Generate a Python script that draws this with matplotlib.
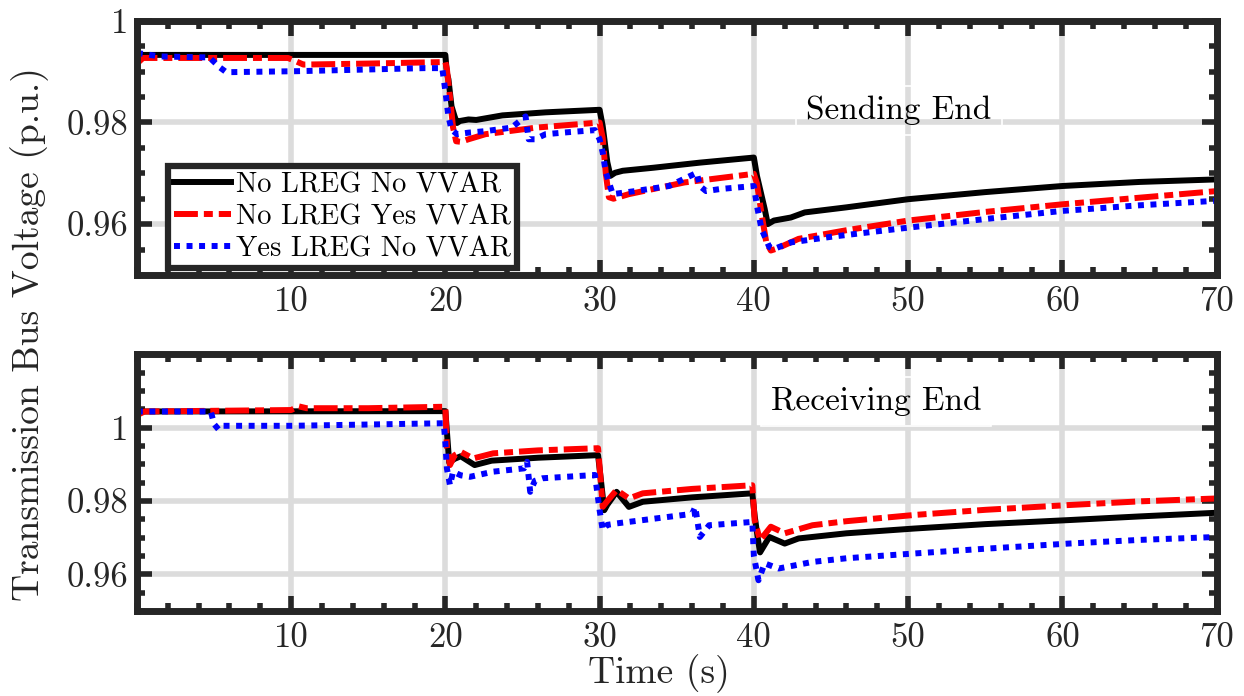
import matplotlib
matplotlib.use("Agg")
import matplotlib.pyplot as plt
from matplotlib.ticker import MultipleLocator

plt.rcParams["font.family"] = "serif"
plt.rcParams["font.serif"] = ["cmr10"]
plt.rcParams["mathtext.fontset"] = "cm"
plt.rcParams["axes.formatter.use_mathtext"] = True

# ---- data ----
labels = ["No LREG No VVAR", "No LREG Yes VVAR", "Yes LREG No VVAR"]
xticks = [10, 20, 30, 40, 50, 60, 70]
xticklabels = ["10", "20", "30", "40", "50", "60", "70"]

# Sending End (top)
send_t_nn = [0, 20.0, 20.1, 20.2, 20.4, 20.6, 20.75, 20.95, 21.5, 22.0, 23.7, 26.5, 30.0,
             30.2, 30.5, 30.7, 31.0, 31.5, 33.5, 36.5, 40.0,
             40.2, 40.7, 40.9, 41.3, 42.4, 43.3, 46, 50, 55, 60, 65, 70]
send_v_nn = [0.9933, 0.9933, 0.9897, 0.9885, 0.9832, 0.9812, 0.9799, 0.9803, 0.9806, 0.9805, 0.9814, 0.9820, 0.9825,
             0.9793, 0.9722, 0.9695, 0.9701, 0.9705, 0.9711, 0.9721, 0.9731,
             0.9695, 0.9630, 0.9600, 0.9607, 0.9613, 0.9623, 0.9633, 0.9649, 0.9663, 0.9675, 0.9683, 0.9688]

send_t_ny = [0, 0.15, 0.4, 9.8, 10.2, 10.8, 15, 20.0,
             20.1, 20.3, 20.5, 20.7, 21.0, 21.5, 22.6, 25.9, 30.0,
             30.2, 30.4, 30.6, 30.9, 31.9, 35.5, 40.0,
             40.2, 40.5, 40.8, 41.1, 41.5, 42.9, 46, 50, 55, 60, 65, 70]
send_v_ny = [0.9927, 0.9920, 0.9927, 0.9927, 0.9922, 0.9914, 0.9916, 0.9919,
             0.9905, 0.9850, 0.9790, 0.9763, 0.9762, 0.9767, 0.9777, 0.9790, 0.9800,
             0.9770, 0.9700, 0.9653, 0.9650, 0.9659, 0.9682, 0.9699,
             0.9680, 0.9620, 0.9565, 0.9548, 0.9552, 0.9571, 0.9588, 0.9607, 0.9624, 0.9639, 0.9652, 0.9665]

send_t_yn = [0, 1.5, 4.7, 5.4, 5.8, 10.4, 18.6, 19.8,
             20.0, 20.2, 20.4, 20.75, 21.5, 22.6, 24.3, 25.2, 25.4, 25.8, 26.5, 28.0, 29.7,
             30.0, 30.2, 30.4, 30.85, 32.3, 34.5, 36.3, 36.5, 36.9, 37.8, 40.0,
             40.2, 40.5, 41.0, 41.3, 42.4, 45, 50, 55, 60, 65, 70]
send_v_yn = [0.9937, 0.9930, 0.9928, 0.9908, 0.9899, 0.9901, 0.9907, 0.9907,
             0.9862, 0.9812, 0.9786, 0.9777, 0.9780, 0.9783, 0.9790, 0.9812, 0.9767, 0.9767, 0.9777, 0.9781, 0.9785,
             0.9767, 0.9741, 0.9702, 0.9659, 0.9665, 0.9675, 0.9701, 0.9675, 0.9665, 0.9669, 0.9675,
             0.9636, 0.9590, 0.9555, 0.9551, 0.9564, 0.9575, 0.9593, 0.9610, 0.9626, 0.9637, 0.9646]

# Receiving End (bottom)
recv_t_nn = [0, 20.0, 20.1, 20.25, 20.6, 21.0, 21.9, 23.0, 26.0, 29.9,
             30.05, 30.3, 30.5, 31.1, 31.9, 32.8, 36.0, 39.9,
             40.05, 40.25, 40.4, 41.0, 42.0, 42.9, 46, 50.4, 55, 60.4, 65, 70]
recv_v_nn = [1.0044, 1.0045, 0.9990, 0.9905, 0.9915, 0.9922, 0.9898, 0.9910, 0.9918, 0.9925,
             0.9870, 0.9775, 0.9790, 0.9825, 0.9784, 0.9798, 0.9810, 0.9821,
             0.9760, 0.9700, 0.9660, 0.9702, 0.9684, 0.9698, 0.9712, 0.9725, 0.9737, 0.9748, 0.9758, 0.9768]

recv_t_ny = [0, 0.2, 0.5, 10.0, 10.5, 11.0, 15.0, 20.0,
             20.1, 20.3, 20.6, 21.0, 21.8, 23.1, 26.0, 29.9,
             30.05, 30.2, 30.5, 31.1, 31.9, 32.8, 36.0, 39.9,
             40.05, 40.4, 41.1, 42.0, 43.8, 46, 50.4, 55, 60.4, 65, 70]
recv_v_ny = [1.0044, 1.0038, 1.0044, 1.0048, 1.0058, 1.0053, 1.0053, 1.0057,
             0.9948, 0.9898, 0.9925, 0.9934, 0.9916, 0.9930, 0.9938, 0.9944,
             0.9866, 0.9784, 0.9800, 0.9830, 0.9807, 0.9821, 0.9833, 0.9843,
             0.9748, 0.9693, 0.9730, 0.9712, 0.9734, 0.9745, 0.9762, 0.9776, 0.9789, 0.9799, 0.9807]

recv_t_yn = [0, 4.8, 5.0, 5.3, 5.6, 10.0, 19.9,
             20.0, 20.1, 20.3, 20.5, 21.0, 21.6, 23.1, 25.1, 25.3, 25.5, 25.8, 26.3, 29.7,
             30.0, 30.2, 30.5, 31.1, 32.8, 36.0, 36.2, 36.5, 37.1, 39.9,
             40.0, 40.3, 40.7, 41.6, 43.8, 46, 50.4, 55, 60.4, 65, 70]
recv_v_yn = [1.0044, 1.0044, 1.0010, 0.9995, 1.0005, 1.0005, 1.0012,
             0.9958, 0.9889, 0.9843, 0.9880, 0.9870, 0.9866, 0.9880, 0.9889, 0.9907, 0.9825, 0.9855, 0.9862, 0.9871,
             0.9775, 0.9721, 0.9735, 0.9739, 0.9748, 0.9765, 0.9784, 0.9702, 0.9734, 0.9743,
             0.9650, 0.9584, 0.9630, 0.9616, 0.9634, 0.9644, 0.9657, 0.9670, 0.9684, 0.9694, 0.9702]

send_yticks = [0.96, 0.98, 1.0]
recv_yticks = [0.96, 0.98, 1.0]
yticklabels = ["0.96", "0.98", "1"]

# ---- drawing ----
edge = "#262626"
lw = 4.3
styles = [dict(color="black", lw=lw, ls="-"),
          dict(color="red", lw=lw, ls=(0, (4, 1, 1.5, 1))),
          dict(color="blue", lw=lw, ls=(0, (1, 1.1)))]

fig = plt.figure(figsize=(12.44, 6.96), dpi=100)
ax1 = fig.add_axes([0.110, 0.605, 0.868, 0.365])
ax2 = fig.add_axes([0.110, 0.122, 0.868, 0.369])


def style_axes(ax, ylim, yticks):
    ax.set_xlim(0, 70)
    ax.set_ylim(*ylim)
    ax.set_xticks(xticks)
    ax.set_xticklabels(xticklabels)
    ax.set_yticks(yticks)
    ax.set_yticklabels(yticklabels)
    ax.xaxis.set_minor_locator(MultipleLocator(2))
    ax.yaxis.set_minor_locator(MultipleLocator(0.005))
    ax.tick_params(which="both", direction="in", top=True, right=True,
                   color=edge, labelcolor=edge, width=4)
    ax.tick_params(which="major", length=11, labelsize=25)
    ax.tick_params(which="minor", length=6)
    ax.tick_params(axis="x", pad=8)
    ax.tick_params(axis="y", pad=6)
    for s in ax.spines.values():
        s.set_linewidth(5)
        s.set_color(edge)
    ax.grid(True, which="major", color="#dcdcdc", lw=4)
    ax.set_axisbelow(True)


lines = []
for t, v, st in zip([send_t_nn, send_t_ny, send_t_yn], [send_v_nn, send_v_ny, send_v_yn], styles):
    ln, = ax1.plot(t, v, **st)
    lines.append(ln)
for t, v, st in zip([recv_t_nn, recv_t_ny, recv_t_yn], [recv_v_nn, recv_v_ny, recv_v_yn], styles):
    ax2.plot(t, v, **st)

style_axes(ax1, (0.95, 1.0), send_yticks)
style_axes(ax2, (0.95, 1.02), recv_yticks)

leg = ax1.legend(lines, labels, loc="lower left", bbox_to_anchor=(0.029, 0.028),
                 borderaxespad=0, fontsize=20.5, handlelength=2.0, handletextpad=0.2,
                 labelspacing=0.2, borderpad=0.2, fancybox=False,
                 edgecolor=edge, framealpha=1)
leg.get_frame().set_linewidth(4.5)

box = dict(boxstyle="square,pad=0.3", fc="none", ec="white", lw=1.2)
ax1.text(43.4, 0.9806, "Sending End", fontsize=24, ha="left", va="baseline", bbox=box)
ax2.text(41.1, 1.0048, "Receiving End", fontsize=24, ha="left", va="baseline", bbox=box)

fig.text(0.024, 0.52, "Transmission Bus Voltage (p.u.)", rotation=90,
         ha="center", va="center", fontsize=27, color=edge)
fig.text(0.53, 0.019, "Time (s)", ha="center", va="baseline", fontsize=27, color=edge)

fig.savefig("out.png", dpi=100)
